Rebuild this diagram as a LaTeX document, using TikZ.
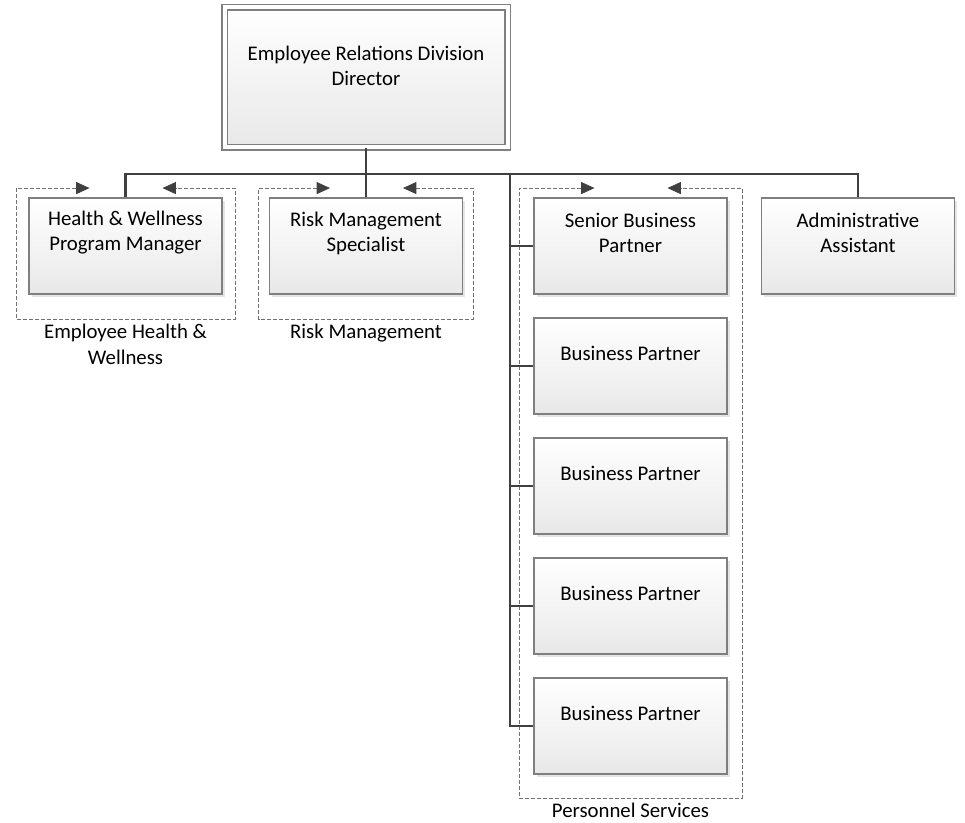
\documentclass[tikz,border=0pt]{standalone}
\usepackage{fontspec}
\setmainfont{Carlito}
\usetikzlibrary{positioning,shadows,fit,calc,arrows.meta}

\definecolor{boxline}{HTML}{7F7F7F}
\definecolor{linkgray}{HTML}{404040}
\definecolor{grpgray}{HTML}{707070}

\begin{document}
\begin{tikzpicture}[x=0.75pt,y=-0.75pt,
	every node/.style={font=\fontsize{15.6}{18.8}\selectfont},
	orgbox/.style={draw=boxline,line width=1pt,top color=white,bottom color=black!9,
		minimum width=144.75pt,minimum height=72pt,inner sep=0pt,
		general shadow={fill=black!10,shadow xshift=2pt,shadow yshift=-2pt}},
	dirbox/.style={orgbox,minimum width=212.25pt,minimum height=105pt,
		line width=0.9pt,double=white,double distance=3pt},
	boxtext/.style={align=center,inner sep=0pt,yshift=9.75pt},
	grp/.style={inner sep=0pt},
	grplabel/.style={align=center,inner sep=1pt,label distance=3pt},
	grpline/.style={draw=grpgray,line width=0.6pt,dash pattern=on 3pt off 1.5pt,
		{Triangle[length=10pt,width=9pt,color=linkgray]}-{Triangle[length=10pt,width=9pt,color=linkgray]}},
	link/.style={draw=linkgray,line width=2pt}]
	\useasboundingbox (0,0) rectangle (965,823);

	\node[dirbox,label={[boxtext,yshift=-0.75pt]center:Employee Relations Division\\Director}] (erd) at (366,77.5) {};

	\node[orgbox,label={[boxtext]center:Health \& Wellness\\Program Manager}] (hwpm) at (125.5,246) {};
	\node[orgbox,label={[boxtext]center:Risk Management\\Specialist}] (rms) at (366,246) {};
	\node[orgbox,label={[boxtext]center:Senior Business\\Partner}] (sbp) at (630.5,246) {};
	\node[orgbox,label={[boxtext]center:Administrative\\Assistant}] (aa) at (858,246) {};
	\foreach \i/\y in {1/366,2/486,3/606,4/726}
		\node[orgbox,label={[boxtext]center:Business Partner}] (bp\i) at (630.5,\y) {};

	% groups
	\node[grp,fit={($(hwpm.north west)+(-12,-9)$) ($(hwpm.south east)+(12,24)$)},
		label={[grplabel]below:Employee Health \&\\Wellness}] (ghw) {};
	\node[grp,fit={($(rms.north west)+(-10,-9)$) ($(rms.south east)+(10,24)$)},
		label={[grplabel]below:Risk Management}] (grm) {};
	\node[grp,fit={($(sbp.north west)+(-14,-9)$) ($(bp4.south east)+(14,23)$)},
		label={[grplabel]below:Personnel Services}] (gps) {};
	\foreach \g in {ghw,grm,gps}
		\draw[grpline] ($(\g.north)+(-36,0)$) -| (\g.south west) -| (\g.north east) -- ($(\g.north)+(37,0)$);

	% reporting lines
	\coordinate (bus) at (366,174);
	\coordinate (spine) at (510,174);
	\draw[link] (erd.south) -- (rms.north);
	\draw[link] (hwpm.north) |- (bus) -| (aa.north);
	\draw[link] (spine) |- (bp4.west);
	\foreach \n in {sbp,bp1,bp2,bp3}
		\draw[link] (spine |- \n.west) -- (\n.west);
\end{tikzpicture}
\end{document}
